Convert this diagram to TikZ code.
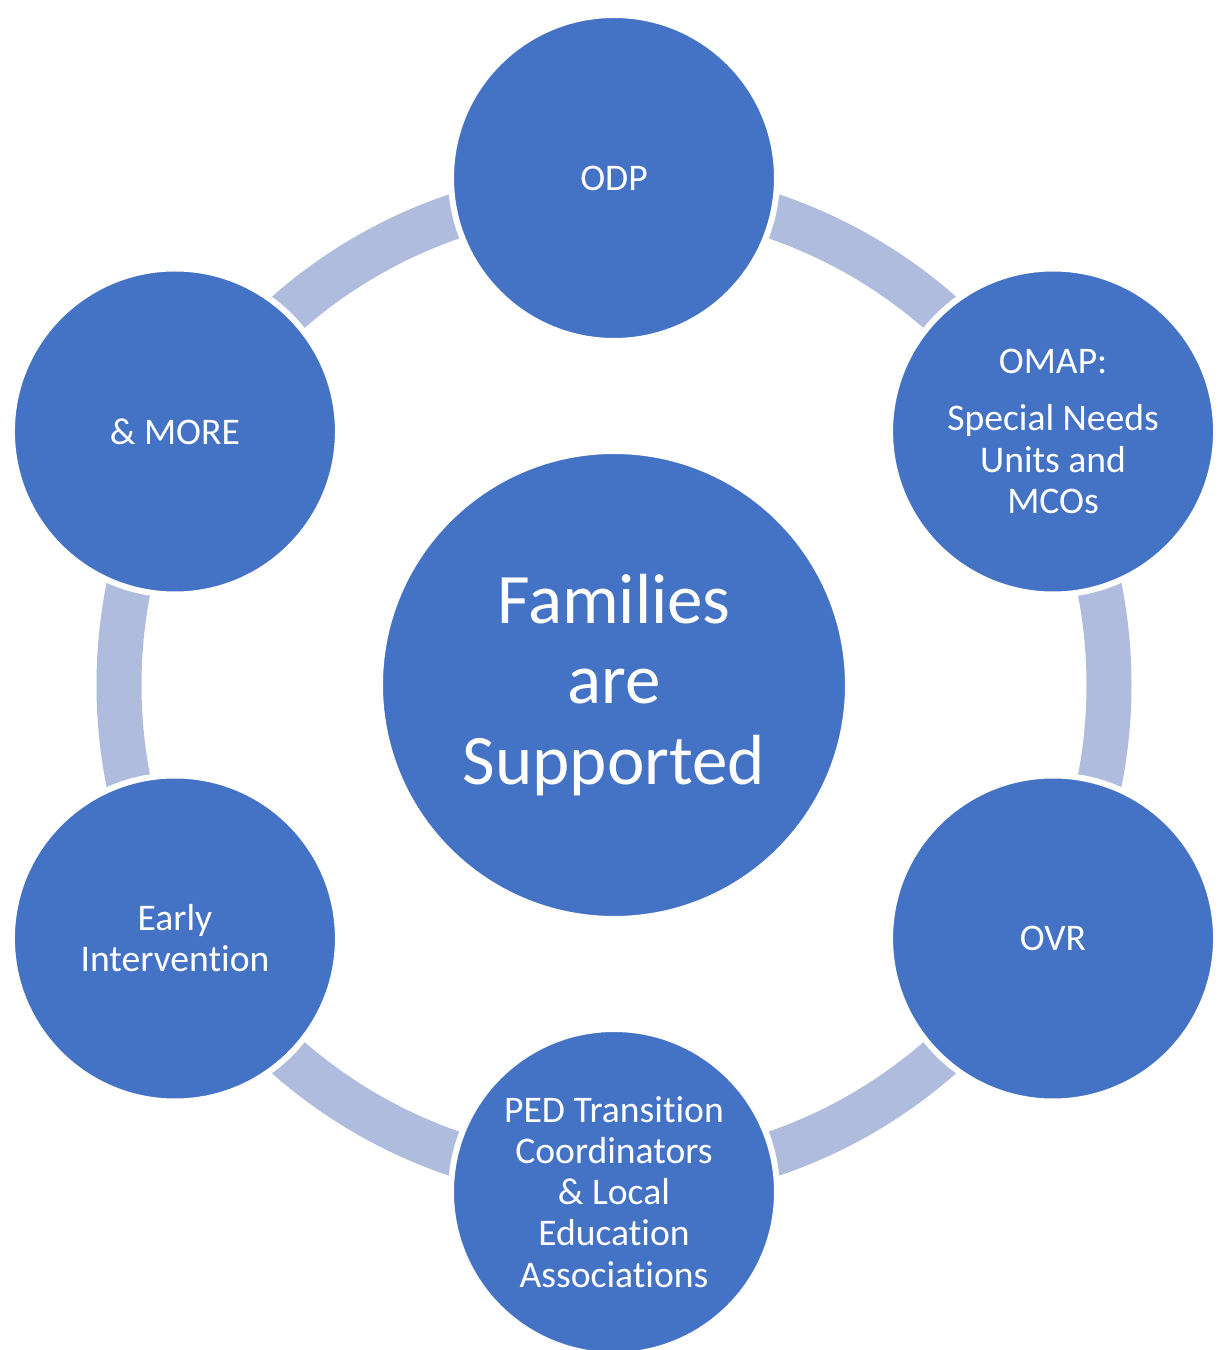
\documentclass[tikz,border=0pt]{standalone}
\usepackage{fontspec}
\setmainfont{Carlito}[Ligatures={NoCommon}]
\usetikzlibrary{calc,positioning}
\definecolor{bubblue}{HTML}{4472C4}
\definecolor{ringblue}{HTML}{B0BCDE}

\begin{document}
\begin{tikzpicture}[
        bub/.style={circle,fill=bubblue,draw=white,line width=0.06cm,minimum size=3.26cm,inner sep=0pt,align=center,text=white,font=\fontsize{10.7}{11.7}\selectfont},
        hub/.style={bub,minimum size=4.68cm,font=\fontsize{20.2}{22.8}\selectfont},
        ringline/.style={draw=ringblue,line width=0.45cm}
      ]
      \useasboundingbox (0,0) rectangle (12.17,13.5);
      \coordinate (MID) at (6.14,6.65);
      \draw[ringline] (MID) circle[radius=4.95];
      \node (FAM) at (MID) [hub] {Families\\are\\Supported};
      \node (ODP) at ($(MID)+(90:5.07)$) [bub] {ODP};
      \node (OMAP) at ($(MID)+(30:5.07)$) [bub] {OMAP:\\[0.16cm]Special Needs\\Units and\\MCOs};
      \node (OVR) at ($(MID)+(-30:5.07)$) [bub] {OVR};
      \node (PED) at ($(MID)+(-90:5.07)$) [bub] {PED Transition\\Coordinators\\\& Local\\Education\\Associations};
      \node (EARLY) at ($(MID)+(210:5.07)$) [bub] {Early\\Intervention};
      \node (MORE) at ($(MID)+(150:5.07)$) [bub] {\& MORE};
    \end{tikzpicture}
\end{document}
